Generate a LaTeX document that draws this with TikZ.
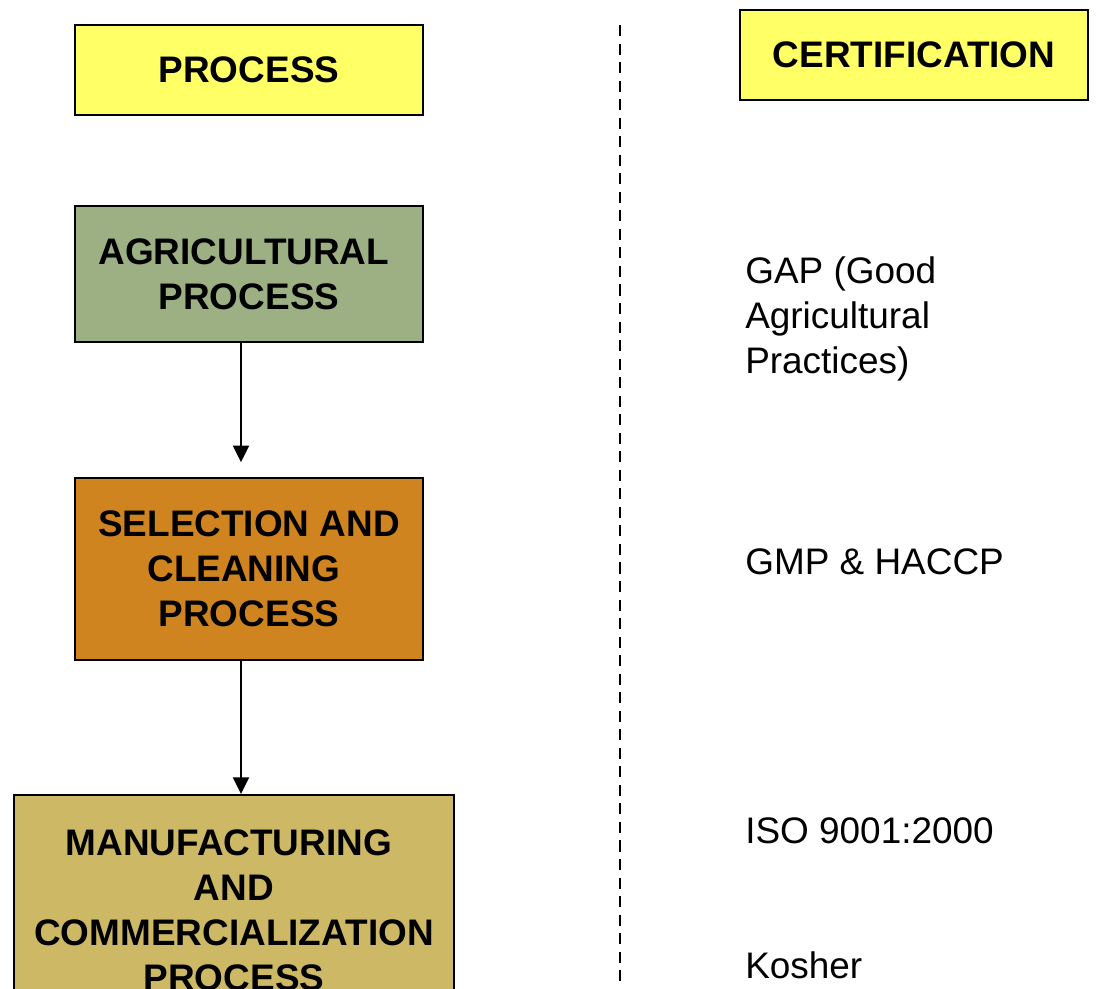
\documentclass[tikz,border=0pt]{standalone}
\usepackage{fontspec}
\setmainfont{Liberation Sans}
\usetikzlibrary{arrows.meta}
\definecolor{headyellow}{HTML}{FFFF66}
\definecolor{agrigreen}{HTML}{9DB083}
\definecolor{selorange}{HTML}{D0841F}
\definecolor{mantan}{HTML}{CDB866}
\begin{document}
\begin{tikzpicture}[x=0.75pt,y=-0.75pt,
    procbox/.style={draw=black,line width=1.6pt,align=center,inner sep=0pt,
      font=\bfseries\fontsize{27.7}{33.75}\selectfont,minimum width=261pt},
    certtext/.style={anchor=west,align=left,inner sep=0pt,
      font=\fontsize{27.7}{33.75}\selectfont},
    flow/.style={line width=1.5pt,-{Triangle[width=12pt,length=12.5pt]}},
    divider/.style={line width=1.4pt,dash pattern=on 8.3pt off 5.6pt}]

          \clip (0,0) rectangle (1116,988);

          % process column
          \node[procbox,fill=headyellow,minimum height=67.5pt] (process) at (249,70) {PROCESS};
          \node[procbox,fill=agrigreen,minimum height=102pt] (agri) at (249,274) {AGRICULTURAL\kern.28em\\PROCESS};
          \node[procbox,fill=selorange,minimum height=136.5pt] (select) at (249,569) {SELECTION AND\\CLEANING\kern.28em\\PROCESS};
          \node[procbox,fill=mantan,minimum width=330pt,minimum height=172.5pt] (manuf) at (234,910) {MANUFACTURING\kern.28em\\AND\\COMMERCIALIZATION\\PROCESS};

          \draw[flow,shorten >=11pt] ([xshift=-6pt]agri.south) -- ([xshift=-6pt]select.north);
          \draw[flow] ([xshift=-6pt]select.south) -- ([xshift=-6pt]select.south |- manuf.north);

          % divider
          \coordinate (divtop) at (620,25);
          \coordinate (divbot) at (620,988);
          \draw[divider] (divtop) -- (divbot);

          % certification column
          \node[procbox,fill=headyellow,minimum height=67.5pt] (cert) at (914,55) {CERTIFICATION};
          \node[certtext] (gap) at (745,319) {GAP (Good\\Agricultural\\Practices)};
          \node[certtext] (gmp) at (745,562) {GMP \& HACCP};
          \node[certtext] (iso) at (745,831) {ISO 9001:2000};
          \node[certtext] (kosher) at (745,965) {Kosher};

      \end{tikzpicture}
\end{document}
